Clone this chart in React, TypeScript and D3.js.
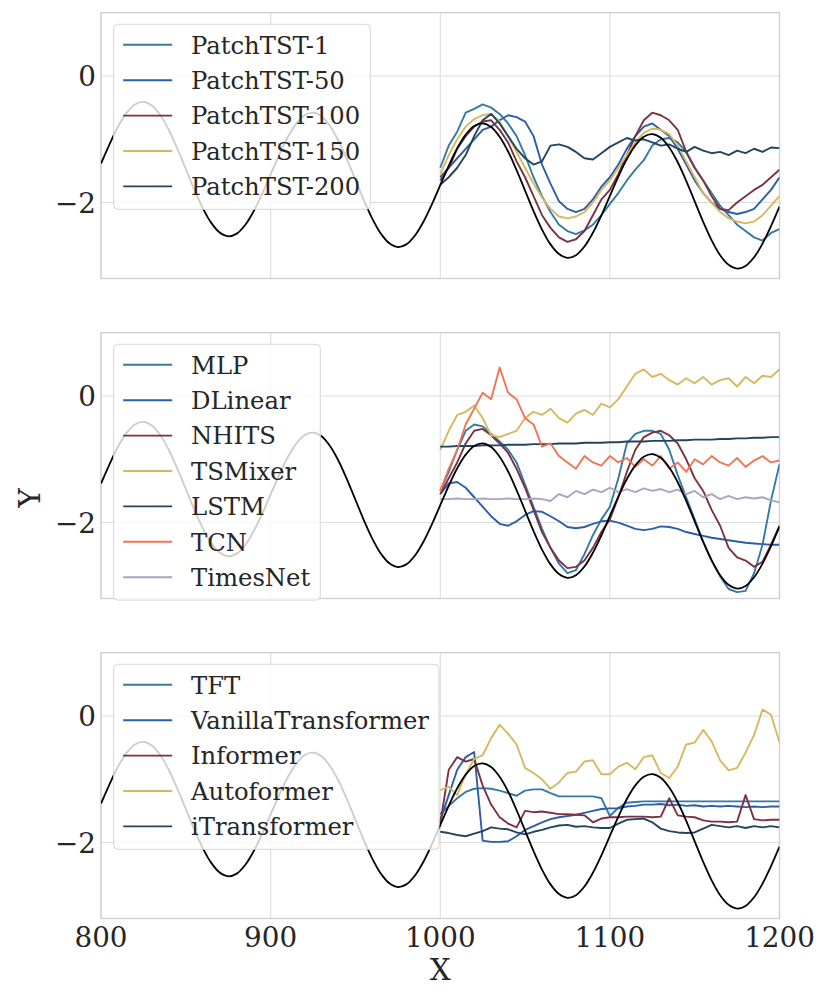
import React from "react";
import * as d3 from "d3";

// ---------- data ----------
const groundX = d3.range(800, 1201, 5);
const predX = d3.range(1000, 1201, 5);

const groundTruth = [
  -1.385, -1.079, -0.802, -0.586, -0.449, -0.408, -0.466, -0.62, -0.853, -1.147,
  -1.47, -1.794, -2.087, -2.321, -2.474, -2.533, -2.491, -2.355, -2.138, -1.862,
  -1.555, -1.249, -0.972, -0.756, -0.619, -0.578, -0.636, -0.79, -1.023, -1.317,
  -1.64, -1.964, -2.257, -2.491, -2.644, -2.703, -2.661, -2.525, -2.308, -2.032,
  -1.725, -1.419, -1.142, -0.926, -0.789, -0.748, -0.806, -0.96, -1.193, -1.487,
  -1.81, -2.134, -2.427, -2.661, -2.814, -2.873, -2.831, -2.695, -2.478, -2.202,
  -1.895, -1.589, -1.312, -1.096, -0.959, -0.918, -0.976, -1.13, -1.363, -1.657,
  -1.98, -2.304, -2.597, -2.831, -2.984, -3.043, -3.001, -2.865, -2.648, -2.372,
  -2.065,
];

// panel 1
const patchTST1 = [-1.45, -1.1, -0.88, -0.58, -0.52, -0.45, -0.5, -0.6, -0.75, -0.95, -1.25, -1.6, -1.9, -2.15, -2.35, -2.45, -2.5, -2.44, -2.35, -2.2, -2.02, -1.85, -1.65, -1.48, -1.33, -1.1, -1.0, -0.98, -1.05, -1.2, -1.45, -1.65, -1.85, -2.05, -2.2, -2.35, -2.45, -2.55, -2.6, -2.48, -2.42];
const patchTST50 = [-1.6, -1.45, -1.3, -1.15, -1.0, -0.85, -0.8, -0.7, -0.62, -0.65, -0.72, -0.95, -1.4, -1.7, -1.98, -2.1, -2.15, -2.1, -1.95, -1.75, -1.6, -1.4, -1.15, -0.95, -0.8, -0.75, -0.85, -0.95, -1.15, -1.4, -1.65, -1.85, -2.0, -2.1, -2.15, -2.18, -2.15, -2.1, -1.95, -1.8, -1.6];
const patchTST100 = [-1.65, -1.45, -1.15, -0.95, -0.8, -0.72, -0.7, -0.85, -1.05, -1.35, -1.6, -1.9, -2.2, -2.4, -2.55, -2.62, -2.58, -2.45, -2.2, -1.95, -1.8, -1.55, -1.25, -0.95, -0.7, -0.58, -0.62, -0.7, -0.85, -1.2, -1.45, -1.65, -1.9, -2.1, -2.12, -2.0, -1.9, -1.8, -1.72, -1.6, -1.48];
const patchTST150 = [-1.55, -1.25, -1.0, -0.8, -0.68, -0.62, -0.6, -0.72, -0.95, -1.2, -1.45, -1.7, -1.92, -2.1, -2.22, -2.25, -2.22, -2.15, -2.0, -1.8, -1.65, -1.45, -1.25, -1.05, -0.9, -0.83, -0.85, -0.92, -1.1, -1.35, -1.6, -1.85, -2.0, -2.15, -2.25, -2.3, -2.33, -2.3, -2.2, -2.05, -1.9];
const patchTST200 = [-1.72, -1.6, -1.45, -1.25, -0.95, -0.7, -0.6, -0.75, -0.95, -1.15, -1.3, -1.4, -1.35, -1.1, -1.08, -1.12, -1.2, -1.3, -1.32, -1.22, -1.12, -1.05, -0.98, -1.02, -1.0, -1.05, -1.1, -1.08, -1.15, -1.2, -1.12, -1.18, -1.22, -1.2, -1.25, -1.18, -1.22, -1.15, -1.2, -1.13, -1.14];

// panel 2
const mlp = [-1.5, -1.2, -0.85, -0.55, -0.45, -0.48, -0.6, -0.72, -0.85, -1.05, -1.4, -1.75, -2.1, -2.4, -2.65, -2.8, -2.75, -2.5, -2.2, -1.95, -1.75, -1.3, -0.75, -0.6, -0.55, -0.55, -0.6, -0.85, -1.25, -1.6, -1.95, -2.3, -2.6, -2.85, -3.05, -3.1, -3.08, -2.8, -2.35, -1.65, -1.08];
const dlinear = [-1.55, -1.38, -1.36, -1.45, -1.6, -1.75, -1.9, -2.02, -2.05, -1.98, -1.88, -1.82, -1.83, -1.9, -1.98, -2.07, -2.09, -2.07, -2.02, -1.98, -1.97, -2.0, -2.05, -2.1, -2.12, -2.1, -2.06, -2.07, -2.1, -2.15, -2.18, -2.21, -2.24, -2.26, -2.28, -2.3, -2.32, -2.33, -2.34, -2.35, -2.35];
const nhits = [-1.55, -1.3, -1.05, -0.75, -0.55, -0.52, -0.62, -0.75, -0.9, -1.15, -1.45, -1.8, -2.15, -2.4, -2.6, -2.72, -2.7, -2.6, -2.4, -2.15, -1.95, -1.6, -1.2, -0.85, -0.65, -0.58, -0.55, -0.62, -0.75, -1.0, -1.3, -1.5, -1.8, -2.05, -2.4, -2.55, -2.6, -2.7, -2.62, -2.35, -2.05];
const tsmixer = [-0.85, -0.55, -0.3, -0.25, -0.15, -0.35, -0.62, -0.65, -0.6, -0.55, -0.35, -0.25, -0.3, -0.2, -0.35, -0.42, -0.28, -0.22, -0.3, -0.12, -0.18, -0.05, 0.15, 0.35, 0.42, 0.3, 0.35, 0.25, 0.18, 0.28, 0.2, 0.3, 0.18, 0.25, 0.28, 0.15, 0.3, 0.2, 0.32, 0.3, 0.42];
const lstm = [-0.8, -0.8, -0.79, -0.79, -0.79, -0.78, -0.78, -0.78, -0.77, -0.77, -0.77, -0.76, -0.76, -0.76, -0.75, -0.75, -0.75, -0.74, -0.74, -0.74, -0.73, -0.73, -0.72, -0.72, -0.72, -0.71, -0.71, -0.71, -0.7, -0.7, -0.69, -0.69, -0.69, -0.68, -0.68, -0.67, -0.67, -0.66, -0.66, -0.65, -0.65];
const tcn = [-1.5, -1.15, -0.85, -0.45, -0.2, 0.05, -0.05, 0.45, 0.05, -0.05, -0.35, -0.45, -0.8, -0.75, -0.95, -1.05, -1.15, -0.95, -1.05, -1.1, -0.95, -1.05, -0.98, -1.12, -1.0, -1.1, -0.95, -1.15, -1.05, -1.2, -1.0, -1.08, -0.95, -1.05, -1.1, -0.98, -1.12, -1.02, -0.95, -1.05, -1.02];
const timesNet = [-1.63, -1.63, -1.62, -1.63, -1.63, -1.62, -1.63, -1.63, -1.62, -1.63, -1.63, -1.62, -1.63, -1.66, -1.55, -1.6, -1.5, -1.55, -1.48, -1.52, -1.45, -1.52, -1.47, -1.52, -1.46, -1.5, -1.47, -1.52, -1.48, -1.55, -1.5, -1.6, -1.55, -1.63, -1.58, -1.63, -1.6, -1.62, -1.6, -1.65, -1.68];

// panel 3
const tft = [-1.55, -1.42, -1.3, -1.2, -1.15, -1.14, -1.15, -1.18, -1.22, -1.26, -1.18, -1.16, -1.16, -1.22, -1.27, -1.27, -1.27, -1.27, -1.27, -1.3, -1.58, -1.45, -1.37, -1.36, -1.35, -1.35, -1.35, -1.35, -1.35, -1.35, -1.35, -1.35, -1.35, -1.35, -1.35, -1.35, -1.35, -1.35, -1.35, -1.35, -1.35];
const vanilla = [-1.65, -1.25, -0.85, -0.65, -0.57, -1.97, -1.99, -1.99, -1.98, -1.9, -1.8, -1.74, -1.68, -1.63, -1.6, -1.58, -1.56, -1.53, -1.5, -1.47, -1.46, -1.46, -1.43, -1.42, -1.4, -1.4, -1.39, -1.41, -1.4, -1.42, -1.41, -1.43, -1.42, -1.43, -1.42, -1.43, -1.44, -1.43, -1.44, -1.43, -1.43];
const informer = [-1.7, -0.85, -0.65, -0.72, -0.68, -1.1, -1.4, -1.6, -1.7, -1.76, -1.5, -1.52, -1.51, -1.53, -1.55, -1.55, -1.56, -1.57, -1.68, -1.62, -1.6, -1.6, -1.59, -1.59, -1.59, -1.6, -1.59, -1.3, -1.57, -1.59, -1.6, -1.65, -1.67, -1.67, -1.68, -1.67, -1.25, -1.63, -1.65, -1.64, -1.64];
const autoformer = [-1.17, -1.12, -1.25, -0.92, -0.68, -0.62, -0.35, -0.14, -0.28, -0.45, -0.82, -0.9, -1.0, -1.15, -1.05, -0.9, -0.88, -0.72, -0.7, -0.92, -0.92, -0.8, -0.74, -0.84, -0.65, -0.62, -0.9, -0.98, -0.8, -0.45, -0.42, -0.22, -0.4, -0.7, -0.86, -0.82, -0.58, -0.3, 0.1, 0.02, -0.42];
const iTransformer = [-1.83, -1.85, -1.88, -1.9, -1.86, -1.82, -1.76, -1.78, -1.79, -1.84, -1.87, -1.83, -1.8, -1.76, -1.73, -1.72, -1.75, -1.74, -1.76, -1.77, -1.77, -1.7, -1.64, -1.63, -1.62, -1.68, -1.78, -1.82, -1.84, -1.85, -1.84, -1.78, -1.72, -1.74, -1.76, -1.74, -1.77, -1.74, -1.76, -1.74, -1.76];

const xTicks = [800, 900, 1000, 1100, 1200];
const yTicks = [0, -2];

const panel1Names = ["PatchTST-1", "PatchTST-50", "PatchTST-100", "PatchTST-150", "PatchTST-200"];
const panel1Values = [patchTST1, patchTST50, patchTST100, patchTST150, patchTST200];
const panel2Names = ["MLP", "DLinear", "NHITS", "TSMixer", "LSTM", "TCN", "TimesNet"];
const panel2Values = [mlp, dlinear, nhits, tsmixer, lstm, tcn, timesNet];
const panel3Names = ["TFT", "VanillaTransformer", "Informer", "Autoformer", "iTransformer"];
const panel3Values = [tft, vanilla, informer, autoformer, iTransformer];

// ---------- style ----------
const TEAL = "#3579a6";
const BLUE = "#2b5ea8";
const MAROON = "#7c3241";
const GOLD = "#d8b85e";
const NAVY = "#22445f";
const ORANGE = "#ee7657";
const LAVENDER = "#a9a5c1";
const panel1Colors = [TEAL, BLUE, MAROON, GOLD, NAVY];
const panel2Colors = [TEAL, BLUE, MAROON, GOLD, NAVY, ORANGE, LAVENDER];
const panel3Colors = [TEAL, BLUE, MAROON, GOLD, NAVY];

const FONT = "'DejaVu Serif', serif";
const TEXT = "#262626";
const W = 830;
const H = 997;
const LEFT = 101;
const RIGHT = 779.5;
const PANEL_H = 265.8;
const PANEL_TOPS = [12.7, 332.7, 652.7];
const TICK_FS = 27.8;
const LEG_FS = 24.3;
const LABEL_FS = 29.5;

const x = d3.scaleLinear().domain([800, 1200]).range([LEFT, RIGHT]);

function measure(s: string, size: number): number {
  try {
    const ctx = document.createElement("canvas").getContext("2d");
    if (ctx) {
      ctx.font = `${size}px 'DejaVu Serif'`;
      return ctx.measureText(s).width;
    }
  } catch (e) {}
  return s.length * size * 0.6;
}

function Panel({ top, names, values, colors, showX }: any) {
  const y = d3.scaleLinear().domain([-3.2, 1.0]).range([top + PANEL_H, top]);
  const predLine = d3
    .line<number>()
    .x((_, i) => x(predX[i]))
    .y((d) => y(d))
    .curve(d3.curveLinear);
  const gtLine = d3
    .line<number>()
    .x((_, i) => x(groundX[i]))
    .y((d) => y(d))
    .curve(d3.curveCatmullRom);
  const clipId = `clip-${Math.round(top)}`;
  const legX = LEFT + 12.7;
  const legY = top + 11.6;
  const rowH = 35.4;
  const maxW = Math.max(...names.map((n: string) => measure(n, LEG_FS)));
  const legW = 77.3 + maxW + 10;
  const legH = names.length * rowH + 8;
  return (
    <g>
      <defs>
        <clipPath id={clipId}>
          <rect x={LEFT} y={top} width={RIGHT - LEFT} height={PANEL_H} />
        </clipPath>
      </defs>
      {xTicks.map((t) => (
        <line key={"gx" + t} x1={x(t)} x2={x(t)} y1={top} y2={top + PANEL_H} stroke="#dcdcdc" strokeWidth={1.1} />
      ))}
      {yTicks.map((t) => (
        <line key={"gy" + t} x1={LEFT} x2={RIGHT} y1={y(t)} y2={y(t)} stroke="#dcdcdc" strokeWidth={1.1} />
      ))}
      <rect x={LEFT} y={top} width={RIGHT - LEFT} height={PANEL_H} fill="none" stroke="#cfcfcf" strokeWidth={1.3} />
      <g clipPath={`url(#${clipId})`}>
        {values.map((v: number[], i: number) => (
          <path key={names[i]} d={predLine(v) || ""} fill="none" stroke={colors[i]} strokeWidth={1.9} strokeLinejoin="round" />
        ))}
        <path d={gtLine(groundTruth) || ""} fill="none" stroke="#000" strokeWidth={1.8} />
      </g>
      {yTicks.map((t) => (
        <text key={"ty" + t} x={LEFT - 5} y={y(t)} dy="0.36em" textAnchor="end" fontSize={TICK_FS} fontFamily={FONT} fill={TEXT}>
          {t < 0 ? "\u2212" + Math.abs(t) : String(t)}
        </text>
      ))}
      {showX &&
        xTicks.map((t) => (
          <text key={"tx" + t} x={x(t)} y={top + PANEL_H + 28.4} textAnchor="middle" fontSize={TICK_FS} fontFamily={FONT} fill={TEXT}>
            {t}
          </text>
        ))}
      <rect x={legX} y={legY} width={legW} height={legH} rx={4} ry={4} fill="#ffffff" fillOpacity={0.8} stroke="#d6d6d6" strokeWidth={1} />
      {names.map((n: string, i: number) => {
        const cy = legY + 20.5 + i * rowH;
        return (
          <g key={"lg" + n}>
            <line x1={legX + 9.5} x2={legX + 58.5} y1={cy} y2={cy} stroke={colors[i]} strokeWidth={1.9} />
            <text x={legX + 77.3} y={cy} dy="0.36em" fontSize={LEG_FS} fontFamily={FONT} fill={TEXT}>
              {n}
            </text>
          </g>
        );
      })}
    </g>
  );
}

export default function App() {
  return (
    <svg
      width={W}
      height={H}
      viewBox={`0 0 ${W} ${H}`}
      style={{ position: "absolute", left: 0, top: 0, background: "#fff" }}
    >
      <rect x={0} y={0} width={W} height={H} fill="#fff" />
      <Panel top={PANEL_TOPS[0]} names={panel1Names} values={panel1Values} colors={panel1Colors} showX={false} />
      <Panel top={PANEL_TOPS[1]} names={panel2Names} values={panel2Values} colors={panel2Colors} showX={false} />
      <Panel top={PANEL_TOPS[2]} names={panel3Names} values={panel3Values} colors={panel3Colors} showX={true} />
      <text x={(LEFT + RIGHT) / 2} y={980} textAnchor="middle" fontSize={LABEL_FS} fontFamily={FONT} fill={TEXT}>
        X
      </text>
      <text transform="translate(40,498) rotate(-90)" textAnchor="middle" fontSize={LABEL_FS} fontFamily={FONT} fill={TEXT}>
        Y
      </text>
    </svg>
  );
}
